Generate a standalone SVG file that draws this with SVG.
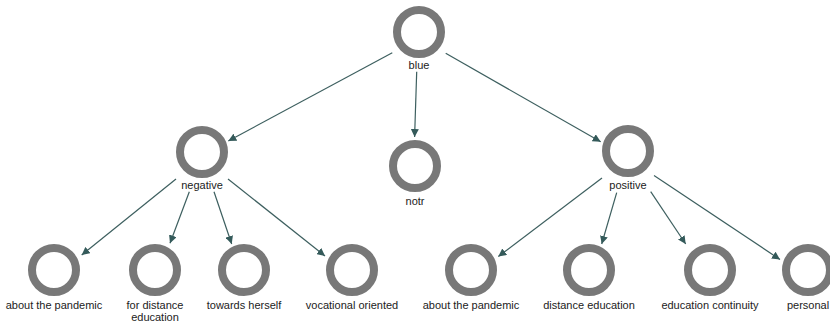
<svg xmlns="http://www.w3.org/2000/svg" width="830" height="322" viewBox="0 0 830 322">
<defs>
<marker id="arr" viewBox="0 0 10 10" refX="10" refY="5" markerWidth="8" markerHeight="8" markerUnits="userSpaceOnUse" orient="auto">
<path d="M0,0 L10,5 L0,10 z" fill="#345a5a"/>
</marker>
<style>
.ring{fill:none;stroke:#787878;stroke-width:8}
.lbl{font-family:"Liberation Sans",Arial,sans-serif;font-size:11px;fill:#222;text-anchor:middle}
.edge{stroke:#3d5f5f;stroke-width:1.2;fill:none;marker-end:url(#arr)}
</style>
</defs>
<rect width="830" height="322" fill="#fff"/>
<g id="connectors">
<line class="edge" x1="392.3" y1="52.7" x2="228.3" y2="141"/>
<line class="edge" x1="445.7" y1="53.3" x2="600.7" y2="141.7"/>
<line class="edge" x1="416.7" y1="71.7" x2="414.6" y2="137"/>
<line class="edge" x1="176" y1="179" x2="81.7" y2="255"/>
<line class="edge" x1="189.3" y1="191.7" x2="170" y2="243.3"/>
<line class="edge" x1="214" y1="191.7" x2="231.7" y2="244"/>
<line class="edge" x1="228" y1="179" x2="325" y2="256"/>
<line class="edge" x1="602" y1="178" x2="498.3" y2="256.5"/>
<line class="edge" x1="616.7" y1="192.7" x2="601.7" y2="244"/>
<line class="edge" x1="650.7" y1="191.7" x2="685.7" y2="244"/>
<line class="edge" x1="654" y1="175.5" x2="780" y2="259.5"/>
</g>
<g id="blue"><circle class="ring" cx="419" cy="32" r="22"/><text class="lbl" x="419" y="69">blue</text></g>
<g id="negative"><circle class="ring" cx="202" cy="152" r="22"/><text class="lbl" x="202" y="189">negative</text></g>
<g id="notr"><circle class="ring" cx="415" cy="166" r="22"/><text class="lbl" x="415" y="205">notr</text></g>
<g id="positive"><circle class="ring" cx="628" cy="151" r="22"/><text class="lbl" x="628" y="189">positive</text></g>
<g id="neg-about-pandemic"><circle class="ring" cx="54" cy="270" r="22"/><text class="lbl" x="54" y="309">about the pandemic</text></g>
<g id="for-distance-education"><circle class="ring" cx="155" cy="270" r="22"/><text class="lbl" x="155" y="309">for distance</text><text class="lbl" x="155" y="321">education</text></g>
<g id="towards-herself"><circle class="ring" cx="244" cy="270" r="22"/><text class="lbl" x="244" y="309">towards herself</text></g>
<g id="vocational-oriented"><circle class="ring" cx="352" cy="270" r="22"/><text class="lbl" x="352" y="309">vocational oriented</text></g>
<g id="pos-about-pandemic"><circle class="ring" cx="471" cy="270" r="22"/><text class="lbl" x="471" y="309">about the pandemic</text></g>
<g id="distance-education"><circle class="ring" cx="589" cy="270" r="22"/><text class="lbl" x="589" y="309">distance education</text></g>
<g id="education-continuity"><circle class="ring" cx="710" cy="270" r="22"/><text class="lbl" x="710" y="309">education continuity</text></g>
<g id="personal"><circle class="ring" cx="808" cy="270" r="22"/><text class="lbl" x="808" y="309">personal</text></g>
</svg>
